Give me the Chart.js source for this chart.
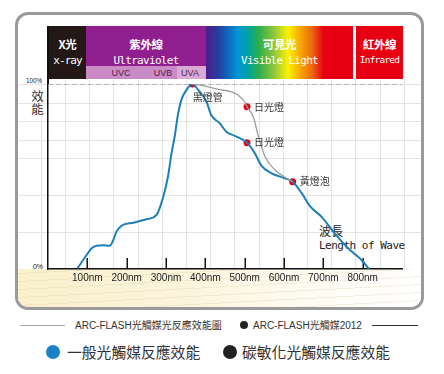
<!DOCTYPE html>
<html><head><meta charset="utf-8">
<script src="https://cdn.jsdelivr.net/npm/chart.js@4.4.1/dist/chart.umd.min.js"></script>
<style>
html,body{margin:0;padding:0;background:#fff;}
body{width:444px;height:374px;position:relative;overflow:hidden;font-family:"Liberation Sans",Arial,sans-serif;}
.a{position:absolute;}
#frame{left:15px;top:12px;width:409px;height:298px;border:3px solid #9a9a9a;border-radius:13px;box-sizing:border-box;background:#fff;overflow:hidden;}
#grid{left:0;top:65px;width:403px;height:189px;
 background-image:repeating-linear-gradient(to right,transparent 0 22.8px,#e3e3e3 22.8px 23.8px,transparent 23.8px 24.2px),
 repeating-linear-gradient(to bottom,transparent 0 4px,#e3e3e3 4px 5px,transparent 5px 18.5px);}
#cream{left:0;top:254px;width:403px;height:40px;
 background-image:repeating-linear-gradient(-3deg,rgba(215,200,160,0.28) 0 1px,transparent 1px 8px),
 linear-gradient(to right,#faf0cc,#fcf5de 45%,#fefcf4 75%,#ffffff);}
.blk{top:26px;height:53px;color:#fff;}
.l1{position:absolute;left:0;right:0;top:11px;height:14px;line-height:14px;text-align:center;font-family:"Noto Sans CJK TC",sans-serif;font-weight:bold;font-size:11.5px;letter-spacing:-0.3px;}
.l2{position:absolute;left:0;right:0;top:28px;height:13px;line-height:13px;text-align:center;font-family:"DejaVu Sans Mono",monospace;font-size:11px;letter-spacing:-0.7px;}
.uvl{top:67px;height:12px;line-height:12px;font-size:9px;color:#4e2450;transform:translateX(-50%);}
.cjk{font-family:"Noto Sans CJK TC",sans-serif;}
canvas{position:absolute;left:0;top:0;}
</style></head><body>
<div id="frame" class="a">
  <div id="grid" class="a"></div>
  <div id="cream" class="a"></div>
</div>
<!-- header bands -->
<div class="a blk" style="left:49px;width:37px;background:#231815;"><div class="l1">X光</div><div class="l2" style="letter-spacing:-0.9px">x-ray</div></div>
<div class="a blk" style="left:86px;width:120px;background:#911e8e;">
  <div class="l1">紫外線</div><div class="l2">Ultraviolet</div>
  <div class="a" style="left:0;top:40px;width:91px;height:13px;background:#c98ac6;"></div>
  <div class="a" style="left:91px;top:40px;width:29px;height:13px;background:#d9aad6;"></div>
</div>
<div class="a uvl" style="left:121px;">UVC</div>
<div class="a uvl" style="left:163px;">UVB</div>
<div class="a uvl" style="left:190px;">UVA</div>
<div class="a blk" style="left:206px;width:147px;background:linear-gradient(to right,#4a1f8b 0%,#2a3b9e 8%,#0a6fc0 16%,#0098d8 22%,#00a59a 29%,#2fae4a 36%,#8cc63f 46%,#fff100 56%,#f6a800 64%,#ee6a10 72%,#e60012 80%,#e60012 100%);">
  <div class="l1">可見光</div><div class="l2">Visible Light</div></div>
<div class="a blk" style="left:356px;width:47px;background:#e60012;"><div class="l1">紅外線</div><div class="l2" style="font-size:9.5px;letter-spacing:-0.8px;top:27px">Infrared</div></div>
<div class="a" style="left:47.3px;top:26px;width:1.5px;height:58px;background:#111;"></div>
<!-- y labels -->
<div class="a" style="left:22px;width:20px;top:76px;height:10px;line-height:10px;font-size:7px;text-align:right;color:#222;transform:scaleX(0.9);transform-origin:right center;">100%</div>
<div class="a" style="left:22px;width:21px;top:262px;height:10px;line-height:10px;font-size:7px;text-align:right;color:#222;">0%</div>
<div class="a cjk" style="left:31px;top:90px;width:13px;font-size:12.5px;line-height:12.5px;color:#333;text-align:center;">效<br>能</div>
<!-- axis title -->
<div class="a cjk" style="left:319px;top:223px;font-size:12px;line-height:16px;color:#222;">波長</div>
<div class="a" style="left:319px;top:239px;font-family:'DejaVu Sans Mono',monospace;font-size:11px;letter-spacing:-0.5px;line-height:14px;color:#222;">Length of Wave</div>
<!-- footer -->
<div class="a" style="left:20px;top:325px;width:45px;height:1px;background:#aaa;"></div>
<div class="a cjk" style="left:75px;top:318px;font-size:10px;line-height:14px;color:#333;"><span style="font-family:'Liberation Sans',Arial">ARC-FLASH</span>光觸媒光反應效能圖</div>
<div class="a" style="left:240px;top:321px;width:8px;height:8px;border-radius:50%;background:#222;"></div>
<div class="a cjk" style="left:253px;top:318px;font-size:10px;line-height:14px;color:#333;"><span style="font-family:'Liberation Sans',Arial">ARC-FLASH</span>光觸媒<span style="font-family:'Liberation Sans',Arial">2012</span></div>
<div class="a" style="left:372px;top:325px;width:46px;height:1px;background:#333;"></div>
<div class="a" style="left:46px;top:345px;width:14px;height:14px;border-radius:50%;background:#1a82c8;"></div>
<div class="a cjk" style="left:67px;top:341px;font-size:14.8px;line-height:22px;color:#333;">一般光觸媒反應效能</div>
<div class="a" style="left:223px;top:345px;width:14px;height:14px;border-radius:50%;background:#222;"></div>
<div class="a cjk" style="left:242px;top:341px;font-size:14.8px;line-height:22px;color:#333;">碳敏化光觸媒反應效能</div>

<canvas id="c" width="444" height="374"></canvas>
<script>
// ---- data ----
const xTickValues = [100,200,300,400,500,600,700,800];
const blueX = [75,100,111,124,140,157,166,174,187,217,250,276,293,305,314,322,331,339,352,367,381,403,415,437,454,475,506,526,543,569,602,622,645,666,695,729,763,797,816];
const blueY = [0.4,8.1,11.2,12.6,12.8,12.6,15.7,20.2,23.4,25,26.9,29.2,39.1,49.9,62.5,71.5,84.2,91.4,96.8,100,97,90.4,83.2,78.7,74,72,68.3,62.5,55.7,51.7,49,47.2,41,34,28.3,19.3,11.2,4.9,0];
const grayX = [367,400,437,466,483,500,506,522,535,552,577,607,622];
const grayY = [100,98.8,97,95.8,94,90.4,87.7,82.3,71.5,60.7,53.5,49,47.2];
const markX = [367,506,506,622];
const markY = [100,87.7,68.3,47.2];
const markLabels = ['黑燈管','日光燈','日光燈','黃燈泡'];
const refX = [0,900];
const refY = [100,100];

const pts = (xs,ys)=>xs.map((x,i)=>({x:x,y:ys[i]}));

const inTicks = {
  id:'inTicks',
  beforeDatasetsDraw(chart){
    const {ctx,scales:{x},chartArea:ca}=chart;
    ctx.save();ctx.strokeStyle='#111';ctx.lineWidth=1.5;
    xTickValues.forEach(v=>{const px=Math.round(x.getPixelForValue(v))+0.25;ctx.beginPath();ctx.moveTo(px,ca.bottom-11);ctx.lineTo(px,ca.bottom);ctx.stroke();});
    ctx.restore();
  }
};
const labelPlugin = {
  id:'markLbl',
  afterDatasetsDraw(chart){
    const {ctx,scales:{x,y}}=chart;
    ctx.save();ctx.font='10px "Noto Sans CJK TC"';ctx.fillStyle='#333';ctx.textBaseline='middle';ctx.textAlign='left';
    markLabels.forEach((t,i)=>{
      const px=x.getPixelForValue(markX[i]), py=y.getPixelForValue(markY[i]);
      if(i===0) ctx.fillText(t,px+0.5,py+13);
      else ctx.fillText(t,px+7,py);
    });
    ctx.restore();
  }
};

const T={left:48,right:402,top:84,bottom:269};
const chart = new Chart(document.getElementById('c'),{
  type:'line',
  data:{datasets:[
    {data:pts(refX,refY),borderColor:'#8a8a8a',borderWidth:1,borderDash:[5,3],pointRadius:0,tension:0},
    {data:pts(grayX,grayY),borderColor:'#9d9d9d',borderWidth:1.3,pointRadius:0,cubicInterpolationMode:'monotone'},
    {data:pts(blueX,blueY),borderColor:'#1c7fb8',borderWidth:2,pointRadius:0,cubicInterpolationMode:'monotone'},
    {data:pts(markX,markY),showLine:false,pointRadius:3.5,pointBackgroundColor:'#e60012',pointBorderColor:'#e60012',pointBorderWidth:0,borderColor:'#e60012',backgroundColor:'#e60012'}
  ]},
  options:{
    responsive:false,animation:false,devicePixelRatio:1,
    layout:{padding:{left:48,top:84,right:42,bottom:90}},
    plugins:{legend:{display:false},tooltip:{enabled:false}},
    scales:{
      x:{type:'linear',min:0,max:900,
        ticks:{stepSize:100,autoSkip:false,maxRotation:0,padding:3,color:'#222',font:{family:'Liberation Sans',size:10},
          callback:v=>(xTickValues.includes(v)?v+'nm':'')},
        grid:{display:true,drawOnChartArea:false,drawTicks:false},
        border:{display:true,color:'#111',width:1.5}},
      y:{min:0,max:100,ticks:{display:false},grid:{display:false,drawTicks:false},border:{display:true,color:'#111',width:1.5}}
    }
  },
  plugins:[inTicks,labelPlugin]
});
for(let k=0;k<3;k++){
  const ca=chart.chartArea;const p=chart.config.options.layout.padding;
  const np={left:p.left+(T.left-ca.left),top:p.top+(T.top-ca.top),right:p.right+(ca.right-T.right),bottom:p.bottom+(ca.bottom-T.bottom)};
  chart.config.options.layout.padding=np;chart.update('none');
}
</script>
</body></html>
